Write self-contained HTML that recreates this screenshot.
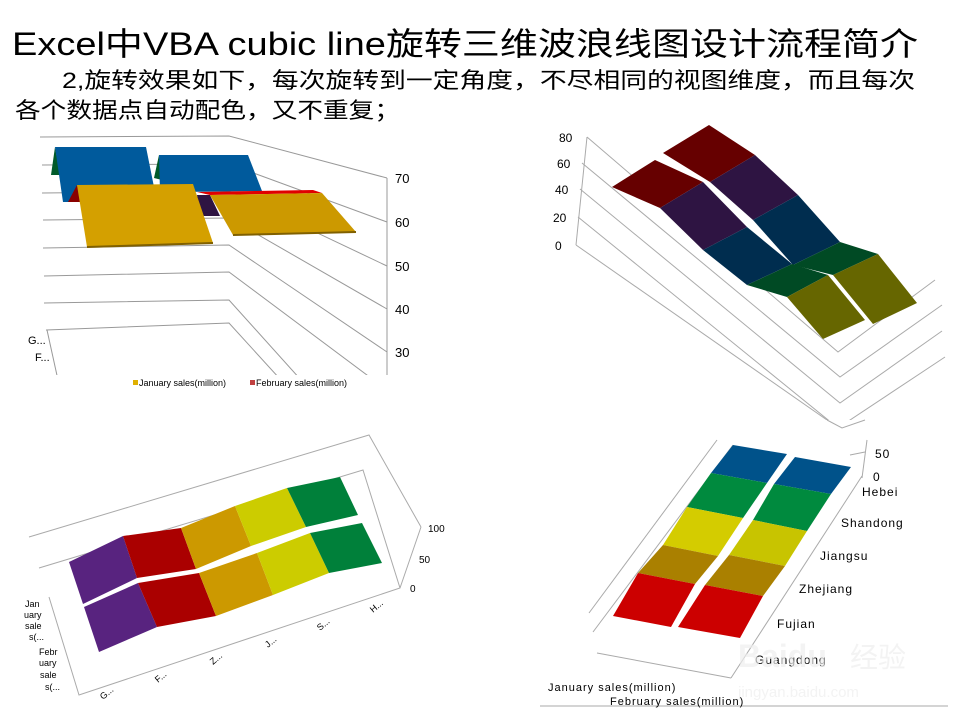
<!DOCTYPE html>
<html><head><meta charset="utf-8"><style>
html,body{margin:0;padding:0;background:#fff;}
svg{display:block;}
text{font-family:"Liberation Sans","Noto Sans CJK SC",sans-serif;}
</style></head><body>
<svg width="960" height="720" viewBox="0 0 960 720" xmlns="http://www.w3.org/2000/svg">
<rect width="960" height="720" fill="#fff"/>
<text x="12" y="55" font-size="32" textLength="906" lengthAdjust="spacingAndGlyphs">Excel中VBA cubic line旋转三维波浪线图设计流程简介</text>
<text x="62" y="88" font-size="22" textLength="853" lengthAdjust="spacingAndGlyphs">2,旋转效果如下，每次旋转到一定角度，不尽相同的视图维度，而且每次</text>
<text x="15" y="118" font-size="22" textLength="385" lengthAdjust="spacingAndGlyphs">各个数据点自动配色，又不重复；</text>

<defs><clipPath id="c1"><rect x="0" y="130" width="480" height="245"/></clipPath>
<clipPath id="c2"><rect x="520" y="120" width="440" height="300"/></clipPath></defs>
<g clip-path="url(#c1)" stroke="#999" stroke-width="1" fill="none">
<polyline points="40,137 229,136 387,178"/>
<polyline points="42,165 229,164 387,222"/>
<polyline points="42,193 229,191 387,266"/>
<polyline points="43,220 229,218 387,309"/>
<polyline points="43,248 229,245 387,352"/>
<polyline points="44,276 229,272 387,390"/>
<polyline points="44,303 229,300 310,390"/>
<polyline points="46,330 229,323 290,390"/>
<line x1="47" y1="330" x2="58" y2="380"/>
<line x1="387" y1="178" x2="387" y2="380"/>
</g>
<g font-size="13" fill="#000">
<text x="395" y="183">70</text><text x="395" y="227">60</text><text x="395" y="271">50</text><text x="395" y="314">40</text><text x="395" y="357">30</text>
<text x="28" y="344" font-size="11">G...</text><text x="35" y="361" font-size="11">F...</text>
</g>
<polygon points="51,175 55,147 60,175" fill="#005a2a"/>
<polygon points="55,147 146,147 157,202 63,202" fill="#005a9c"/>
<polygon points="154,178 159,155 162,180" fill="#005a2a"/>
<polygon points="159,155 248,155 262,191 160,192" fill="#005a9c"/>
<polygon points="197,192 313,190 322,193 210,195" fill="#e00000"/>
<polygon points="197,195 210,195 220,216 200,216" fill="#2e1442"/>
<polygon points="68,202 77,185 80,202" fill="#8a0000"/>
<polygon points="77,185 193,184 213,243 87,247" fill="#d4a000"/>
<line x1="87" y1="247" x2="213" y2="243" stroke="#806000" stroke-width="2"/>
<polygon points="210,195 322,193 356,232 233,235" fill="#cc9900"/>
<line x1="233" y1="235" x2="356" y2="232" stroke="#806000" stroke-width="2"/>
<rect x="133" y="380" width="5" height="5" fill="#e0b000"/>
<text x="139" y="386" font-size="9">January sales(million)</text>
<rect x="250" y="380" width="5" height="5" fill="#c04040"/>
<text x="256" y="386" font-size="9">February sales(million)</text>

<g clip-path="url(#c2)" stroke="#aaa" stroke-width="1" fill="none">
<line x1="587" y1="137" x2="576" y2="245"/>
<polyline points="587,137 838,352 935,280"/>
<polyline points="582,163 840,377 942,305"/>
<polyline points="580,189 840,403 942,331"/>
<polyline points="578,217 838,428 945,357"/>
<polyline points="576,245 827,420"/>
</g>
<g font-size="12" fill="#000">
<text x="559" y="142">80</text><text x="557" y="168">60</text><text x="555" y="194">40</text><text x="553" y="222">20</text><text x="555" y="250">0</text>
</g>
<polygon points="663,153 709,125 755,155 710,182" fill="#660000"/>
<polygon points="710,182 755,155 798,195 753,220" fill="#2e1442"/>
<polygon points="753,220 798,195 840,242 793,265" fill="#002d4f"/>
<polygon points="793,265 840,242 878,254 833,275" fill="#004a24"/>
<polygon points="833,275 878,254 917,303 873,324" fill="#666600"/>
<polygon points="612,187 655,160 703,182 660,208" fill="#660000"/>
<polygon points="660,208 703,182 747,227 703,250" fill="#2e1442"/>
<polygon points="703,250 747,227 792,264 747,285" fill="#002d4f"/>
<polygon points="747,285 792,264 828,275 787,297" fill="#004a24"/>
<polygon points="787,297 828,275 865,320 823,339" fill="#666600"/>

<g stroke="#aaa" stroke-width="1" fill="none">
<polyline points="29,537 369,435 421,527"/>
<polyline points="39,568 363,470 400,588"/>
<polyline points="49,597 79,695 400,588 421,527"/>
</g>
<g font-size="10" fill="#000">
<text x="428" y="532">100</text><text x="419" y="563">50</text><text x="410" y="592">0</text>
</g>
<polygon points="69,562 123,536 137,578 83,604" fill="#58237f"/>
<polygon points="123,536 181,528 196,569 137,578" fill="#aa0000"/>
<polygon points="181,528 235,506 251,546 196,569" fill="#cc9900"/>
<polygon points="235,506 287,488 306,527 251,546" fill="#cccc00"/>
<polygon points="287,488 340,477 358,515 306,527" fill="#00803a"/>
<polygon points="84,607 138,583 157,627 99,652" fill="#58237f"/>
<polygon points="138,583 199,573 216,616 157,627" fill="#aa0000"/>
<polygon points="199,573 257,553 273,595 216,616" fill="#cc9900"/>
<polygon points="257,553 310,533 329,573 273,595" fill="#cccc00"/>
<polygon points="310,533 362,523 382,563 329,573" fill="#00803a"/>
<g font-size="9" fill="#000">
<text transform="translate(103,700) rotate(-40)">G...</text>
<text transform="translate(158,683) rotate(-40)">F...</text>
<text transform="translate(213,665) rotate(-40)">Z...</text>
<text transform="translate(268,648) rotate(-40)">J...</text>
<text transform="translate(320,631) rotate(-40)">S...</text>
<text transform="translate(373,613) rotate(-40)">H...</text>
<text x="25" y="607">Jan</text><text x="24" y="618">uary</text><text x="25" y="629">sale</text><text x="29" y="640">s(...</text>
<text x="39" y="655">Febr</text><text x="39" y="666">uary</text><text x="40" y="678">sale</text><text x="45" y="690">s(...</text>
</g>

<g stroke="#aaa" stroke-width="1" fill="none">
<polyline points="827,420 842,428 865,420"/>
<line x1="717" y1="440" x2="589" y2="613"/>
<line x1="733" y1="445" x2="593" y2="632"/>
<line x1="865" y1="452" x2="850" y2="455"/>
<line x1="867" y1="440" x2="862" y2="478"/>
<line x1="862" y1="476" x2="731" y2="678"/>
<line x1="597" y1="653" x2="731" y2="678"/>
<line x1="540" y1="706" x2="948" y2="706"/>
</g>
<polygon points="733,445 787,454 767,483 711,473" fill="#00528a"/>
<polygon points="711,473 767,483 743,518 687,507" fill="#008a3e"/>
<polygon points="687,507 743,518 718,556 663,545" fill="#d4cc00"/>
<polygon points="663,545 718,556 695,584 638,573" fill="#aa8000"/>
<polygon points="638,573 695,584 671,627 613,616" fill="#cc0000"/>
<polygon points="795,457 851,467 831,494 774,484" fill="#00528a"/>
<polygon points="774,484 831,494 807,531 753,520" fill="#008a3e"/>
<polygon points="753,520 807,531 785,566 729,555" fill="#c8c400"/>
<polygon points="729,555 785,566 763,596 705,585" fill="#aa8000"/>
<polygon points="705,585 763,596 740,638 678,627" fill="#cc0000"/>
<g font-size="12" fill="#000" letter-spacing="1">
<text x="875" y="458">50</text><text x="873" y="481">0</text>
<text x="862" y="496">Hebei</text>
<text x="841" y="527">Shandong</text>
<text x="820" y="560">Jiangsu</text>
<text x="799" y="593">Zhejiang</text>
<text x="777" y="628">Fujian</text>
<text x="755" y="664">Guangdong</text>
<text x="548" y="691" font-size="11">January sales(million)</text>
<text x="610" y="705" font-size="11">February sales(million)</text>
</g>
<g fill="#eee" opacity="0.7">
<text x="738" y="667" font-size="32" font-weight="bold">Baidu</text>
<text x="850" y="667" font-size="28">经验</text>
<text x="738" y="697" font-size="15">jingyan.baidu.com</text>
</g>
</svg>
</body></html>
